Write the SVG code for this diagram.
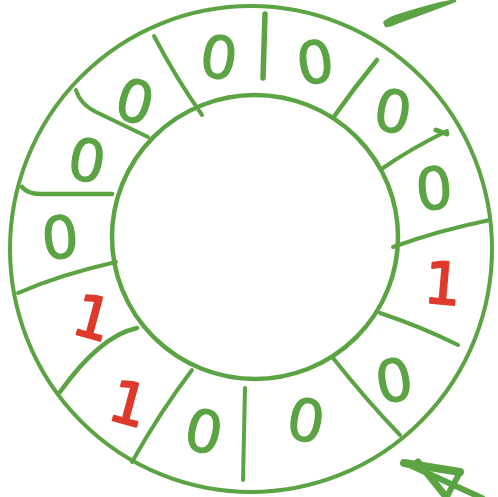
<svg xmlns="http://www.w3.org/2000/svg" width="498" height="497" viewBox="0 0 498 497">
<style>
.ln{fill:none;stroke:#5ba343;stroke-linecap:round;stroke-linejoin:round}
.d{font-family:"DejaVu Sans",sans-serif;font-size:58px;text-anchor:middle;stroke-width:1.2;stroke-linejoin:round}
.z{fill:#5ba343;stroke:#5ba343}
.o{fill:#de3a2b;stroke:#de3a2b;stroke-width:2}
</style>
<rect width="498" height="497" fill="#ffffff"/>
<g id="ring">
<ellipse class="ln" cx="251" cy="249" rx="241" ry="243" stroke-width="4"/>
<ellipse class="ln" cx="255" cy="237" rx="143" ry="142" stroke-width="4.5"/>
</g>
<g id="connectors">
<path class="ln" stroke-width="5.5" d="M265,14 L263,78"/>
<path class="ln" stroke-width="4" d="M154,36 Q176,78 202,115"/>
<path class="ln" stroke-width="4" d="M76,90 Q80,104 96,112 L148,137"/>
<path class="ln" stroke-width="4.5" d="M22,187 Q28,194 40,194 L112,194"/>
<path class="ln" stroke-width="4" d="M18,293 Q62,274 116,262"/>
<path class="ln" stroke-width="4.5" d="M60,392 Q100,336 137,328"/>
<path class="ln" stroke-width="4" d="M132,462 Q160,412 192,370"/>
<path class="ln" stroke-width="4" d="M245,388 L243,480"/>
<path class="ln" stroke-width="4" d="M333,358 Q368,402 400,435"/>
<path class="ln" stroke-width="4" d="M380,313 Q422,327 458,345"/>
<path class="ln" stroke-width="4" d="M393,247 Q440,230 490,220"/>
<path class="ln" stroke-width="4" d="M383,168 Q412,148 447,131"/>
<path class="ln" stroke-width="5" d="M436,130 L447,134"/>
<path class="ln" stroke-width="4.5" d="M333,118 Q354,88 377,60"/>
</g>
<g id="cells">
<text class="d z" x="219" y="78" transform="rotate(8 219 57)">0</text>
<text class="d z" x="315" y="83" transform="rotate(-8 315 62)">0</text>
<text class="d z" x="393" y="132" transform="rotate(10 393 111)">0</text>
<text class="d z" x="434" y="209" transform="rotate(-5 434 188)">0</text>
<text class="d o" x="443" y="304" transform="rotate(5 443 283)">1</text>
<text class="d z" x="394" y="401" transform="rotate(-10 394 380)">0</text>
<text class="d z" x="306" y="441" transform="rotate(10 306 420)">0</text>
<text class="d z" x="204" y="452" transform="rotate(12 204 431)">0</text>
<text class="d o" x="129" y="424" transform="rotate(15 129 403)">1</text>
<text class="d o" x="93" y="338" transform="rotate(15 93 317)">1</text>
<text class="d z" x="60" y="258" transform="rotate(-5 60 237)">0</text>
<text class="d z" x="87" y="181" transform="rotate(10 87 160)">0</text>
<text class="d z" x="135" y="122" transform="rotate(15 135 101)">0</text>
</g>
<g id="marks">
<path fill="#5ba343" d="M383,22 Q387,18 395,15 Q420,7 440,2 L456,-1 L456,2 Q430,12 397,24 Q388,28 385,27 Z"/>
<path class="ln" stroke-width="8" d="M404,463 L460,472"/>
<path class="ln" stroke-width="6" d="M405,463 L482,498"/>
<path class="ln" stroke-width="7" d="M418,462 L447,498"/>
<path class="ln" stroke-width="6" d="M458,476 L446,498"/>
</g>
</svg>
